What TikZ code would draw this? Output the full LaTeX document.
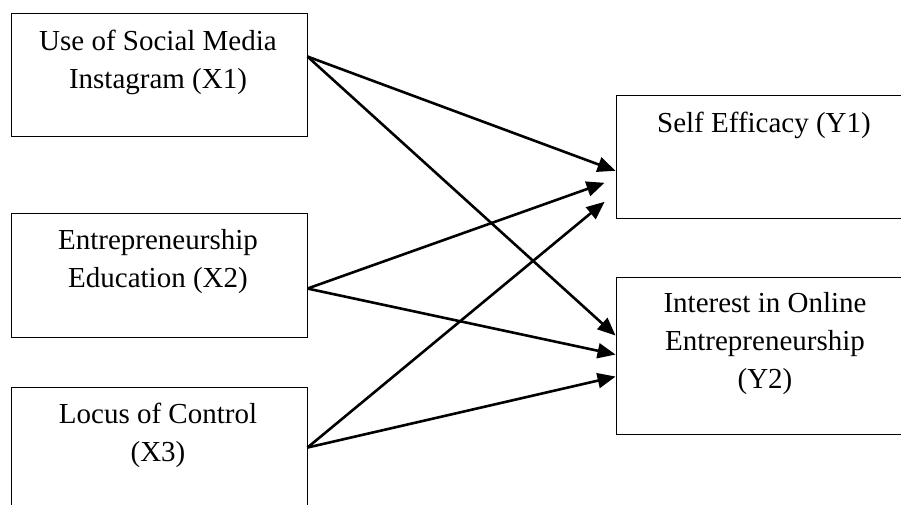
\documentclass[tikz,border=0pt]{standalone}
\usepackage{fontspec}
\setmainfont{Liberation Serif}
\usetikzlibrary{arrows.meta,calc}
\begin{document}
\begin{tikzpicture}[x=1pt,y=-1pt,
  box/.style={draw,line width=0.9pt,minimum width=#1,inner sep=0pt},
  txt/.style={font=\fontsize{29}{38}\selectfont,align=center,inner sep=0pt,anchor=base},
  link/.style={line width=2.6pt,-{Triangle[length=18pt,width=15pt]}}]
\useasboundingbox (0,0) rectangle (901,505);
\clip (0,0) rectangle (901,505);
% boxes
\node[box=296pt,minimum height=123pt] (x1) at (159,74.5) {};
\node[box=296pt,minimum height=124pt] (x2) at (159,275) {};
\node[box=296pt,minimum height=124pt] (x3) at (159,449) {};
\node[box=300pt,minimum height=123.5pt] (y1) at (766,157) {};
\node[box=300pt,minimum height=157pt] (y2) at (766,355.5) {};
% texts (anchored at the baseline of the last line)
\node[txt] (t1) at (158,89) {Use of Social Media\\Instagram (X1)};
\node[txt] (t2) at (158,287) {Entrepreneurship\\Education (X2)};
\node[txt] (t3) at (158,461) {Locus of Control\\(X3)};
\node[txt] (t4) at (764,133) {Self Efficacy (Y1)};
\node[txt] (t5) at (765,388) {Interest in Online\\Entrepreneurship\\(Y2)};
% connector ends
\coordinate (s1) at ($(x1.north east)+(0,44)$);
\coordinate (s2) at ($(x2.north east)+(0,76)$);
\coordinate (s3) at ($(x3.north east)+(0,61)$);
\coordinate (e11) at ($(y1.north west)+(0,76)$);
\coordinate (e21) at ($(y1.north west)+(-11,88)$);
\coordinate (e31) at ($(y1.north west)+(-11,107)$);
\coordinate (e12) at ($(y2.north west)+(0,59)$);
\coordinate (e22) at ($(y2.north west)+(0,78)$);
\coordinate (e32) at ($(y2.north west)+(0,100)$);
% connectors
\draw[link] (s1) -- (e11);
\draw[link] (s1) -- (e12);
\draw[link] (s2) -- (e21);
\draw[link] (s2) -- (e22);
\draw[link] (s3) -- (e31);
\draw[link] (s3) -- (e32);
\end{tikzpicture}
\end{document}
